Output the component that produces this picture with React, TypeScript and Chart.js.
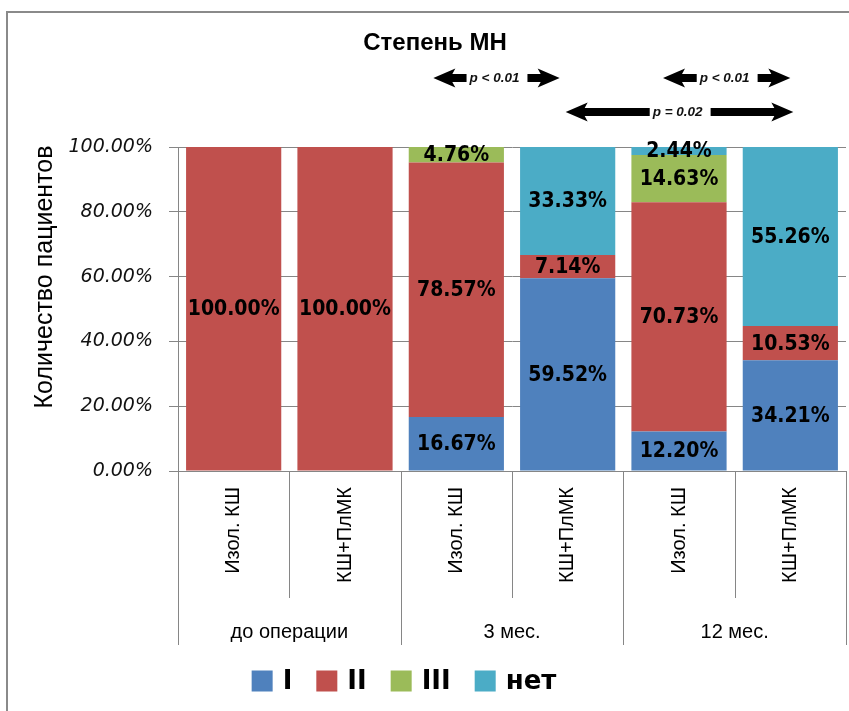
import React, { useEffect, useRef } from "react";
import { Chart, registerables } from "chart.js";

Chart.register(...registerables);

const barLabels = ["Изол. КШ", "КШ+ПлМК", "Изол. КШ", "КШ+ПлМК", "Изол. КШ", "КШ+ПлМК"];
const groupLabels = ["до операции", "3 мес.", "12 мес."];
const seriesNames = ["I", "II", "III", "нет"];
const seriesColors = ["#4F81BD", "#C0504D", "#9BBB59", "#4BACC6"];
const gradeI = [0, 0, 16.67, 59.52, 12.2, 34.21];
const gradeII = [100, 100, 78.57, 7.14, 70.73, 10.53];
const gradeIII = [0, 0, 4.76, 0, 14.63, 0];
const gradeNone = [0, 0, 0, 33.33, 2.44, 55.26];
const yTicks = [0, 20, 40, 60, 80, 100];
const chartTitle = "Степень МН";
const yTitle = "Количество пациентов";
// significance brackets: [fromBarIndex, toBarIndex, text, row]
const brackets: [number, number, string, number][] = [
  [2, 3, "p < 0.01", 0],
  [4, 5, "p < 0.01", 0],
  [3, 5, "p = 0.02", 1],
];

const GRID = "#868686";

function drawArrowPiece(ctx: CanvasRenderingContext2D, tip: number, end: number, y: number) {
  const dir = end > tip ? 1 : -1;
  const headLen = 22;
  const headHalf = 9.5;
  const shaftHalf = 4;
  ctx.beginPath();
  ctx.moveTo(tip, y);
  ctx.lineTo(tip + dir * headLen, y - headHalf);
  ctx.lineTo(tip + dir * (headLen - 3), y - shaftHalf);
  ctx.lineTo(end, y - shaftHalf);
  ctx.lineTo(end, y + shaftHalf);
  ctx.lineTo(tip + dir * (headLen - 3), y + shaftHalf);
  ctx.lineTo(tip + dir * headLen, y + headHalf);
  ctx.closePath();
  ctx.fill();
}

const decorPlugin = {
  id: "decor",
  beforeDraw(chart: any) {
    const ctx = chart.ctx as CanvasRenderingContext2D;
    ctx.save();
    ctx.fillStyle = "#fff";
    ctx.fillRect(0, 0, chart.width, chart.height);
    ctx.strokeStyle = "#8a8a8a";
    ctx.lineWidth = 2;
    ctx.beginPath();
    ctx.moveTo(7, chart.height);
    ctx.lineTo(7, 12);
    ctx.lineTo(chart.width, 12);
    ctx.stroke();
    ctx.restore();
  },
  afterDatasetsDraw(chart: any) {
    const ctx = chart.ctx as CanvasRenderingContext2D;
    const { chartArea } = chart;
    const xs = chart.scales.x;
    ctx.save();

    // data labels
    ctx.font = "bold 21px 'DejaVu Sans Condensed', 'DejaVu Sans', sans-serif";
    ctx.fillStyle = "#000";
    ctx.textAlign = "center";
    ctx.textBaseline = "middle";
    chart.data.datasets.forEach((ds: any, di: number) => {
      const meta = chart.getDatasetMeta(di);
      meta.data.forEach((el: any, i: number) => {
        const v = ds.data[i];
        if (!v) return;
        const yc = (el.y + el.base) / 2;
        ctx.fillText(v.toFixed(2) + "%", el.x, yc + 1);
      });
    });

    // x axis structure
    const n = barLabels.length;
    const catW = (chartArea.right - chartArea.left) / n;
    const bottom = chartArea.bottom;
    ctx.strokeStyle = GRID;
    ctx.lineWidth = 1;
    ctx.beginPath();
    ctx.moveTo(chartArea.left - 9, bottom + 0.5);
    ctx.lineTo(chartArea.right, bottom + 0.5);
    ctx.stroke();
    for (let i = 0; i <= n; i++) {
      const xb = Math.round(xs.getPixelForValue(Math.min(i, n - 1)) + (i === n ? catW / 2 : -catW / 2)) + 0.5;
      const long = i % 2 === 0;
      ctx.beginPath();
      ctx.moveTo(xb, bottom);
      ctx.lineTo(xb, long ? bottom + 174 : bottom + 127);
      ctx.stroke();
    }

    // rotated bar labels
    ctx.fillStyle = "#000";
    ctx.font = "20px 'Liberation Sans', Arial, sans-serif";
    barLabels.forEach((lab, i) => {
      const x = xs.getPixelForValue(i);
      ctx.save();
      ctx.translate(x, bottom + 16);
      ctx.rotate(-Math.PI / 2);
      ctx.textAlign = "right";
      ctx.textBaseline = "middle";
      ctx.fillText(lab, 0, 0);
      ctx.restore();
    });
    // group labels
    ctx.font = "20px 'Liberation Sans', Arial, sans-serif";
    ctx.textAlign = "center";
    ctx.textBaseline = "middle";
    groupLabels.forEach((g, gi) => {
      const x = (xs.getPixelForValue(gi * 2) + xs.getPixelForValue(gi * 2 + 1)) / 2;
      ctx.fillText(g, x, bottom + 161);
    });

    // title
    ctx.font = "bold 24px 'Liberation Sans', Arial, sans-serif";
    ctx.fillText(chartTitle, 435, 43);

    // y title
    ctx.save();
    ctx.translate(45, 277);
    ctx.rotate(-Math.PI / 2);
    ctx.font = "25px 'Liberation Sans', Arial, sans-serif";
    ctx.fillText(yTitle, 0, 0);
    ctx.restore();

    // brackets
    brackets.forEach(([a, b, txt, row]) => {
      const y = row === 0 ? 78 : 112;
      let left: number, right: number;
      if (row === 0) {
        left = xs.getPixelForValue(a) - (a === 2 ? 23 : 16);
        right = xs.getPixelForValue(b) - (b === 3 ? 8 : 0);
      } else {
        left = xs.getPixelForValue(a) - 2;
        right = xs.getPixelForValue(b) + 3;
      }
      ctx.font = "italic bold 13.5px 'Liberation Sans', Arial, sans-serif";
      const tw = ctx.measureText(txt).width;
      const cx = row === 0 ? (left + right) / 2 - 2 : left + 112;
      ctx.textAlign = "center";
      ctx.fillStyle = "#111";
      ctx.fillText(txt, cx, y);
      ctx.fillStyle = "#000";
      drawArrowPiece(ctx, left, cx - tw / 2 - 3, y);
      drawArrowPiece(ctx, right, cx + tw / 2 + 8, y);
    });

    // legend
    ctx.font = "bold 26px 'DejaVu Sans', sans-serif";
    ctx.textBaseline = "middle";
    ctx.textAlign = "left";
    const box = 21, gapT = 10, gapI = 24;
    let total = 0;
    const widths = seriesNames.map((s) => ctx.measureText(s).width);
    widths.forEach((w, i) => (total += box + gapT + w + (i < widths.length - 1 ? gapI : 0)));
    let lx = 404 - total / 2;
    const ly = 681;
    seriesNames.forEach((s, i) => {
      ctx.fillStyle = seriesColors[i];
      ctx.fillRect(lx, ly - box / 2, box, box);
      ctx.fillStyle = "#000";
      ctx.fillText(s, lx + box + gapT, ly + 1);
      lx += box + gapT + widths[i] + gapI;
    });

    ctx.restore();
  },
};

export default function App() {
  const ref = useRef<HTMLCanvasElement | null>(null);
  useEffect(() => {
    if (!ref.current) return;
    const chart = new Chart(ref.current, {
      type: "bar",
      data: {
        labels: barLabels,
        datasets: [
          { label: seriesNames[0], data: gradeI, backgroundColor: seriesColors[0] },
          { label: seriesNames[1], data: gradeII, backgroundColor: seriesColors[1] },
          { label: seriesNames[2], data: gradeIII, backgroundColor: seriesColors[2] },
          { label: seriesNames[3], data: gradeNone, backgroundColor: seriesColors[3] },
        ],
      },
      options: {
        animation: false,
        responsive: false,
        maintainAspectRatio: false,
        layout: { padding: { left: 0, right: 3, top: 147, bottom: 240 } },
        datasets: { bar: { barPercentage: 0.855, categoryPercentage: 1 } },
        plugins: { legend: { display: false }, title: { display: false }, tooltip: { enabled: false } },
        scales: {
          x: { stacked: true, display: false },
          y: {
            stacked: true,
            min: 0,
            max: 100,
            afterFit: (s: any) => {
              s.width = 178;
            },
            afterBuildTicks: (s: any) => {
              s.ticks = yTicks.map((v) => ({ value: v }));
            },
            ticks: {
              padding: 16,
              color: "#111",
              font: { family: "'DejaVu Sans', sans-serif", size: 19, style: "italic" },
              callback: (v: any) => Number(v).toFixed(2) + "%",
            },
            grid: { color: GRID, tickLength: 9, lineWidth: 1 },
            border: { display: true, color: GRID },
          },
        },
      },
      plugins: [decorPlugin],
    });
    return () => chart.destroy();
  }, []);
  return (
    <div style={{ position: "absolute", left: 0, top: 0, width: 849, height: 711 }}>
      <canvas ref={ref} width={849} height={711} style={{ width: 849, height: 711, display: "block" }} />
    </div>
  );
}
